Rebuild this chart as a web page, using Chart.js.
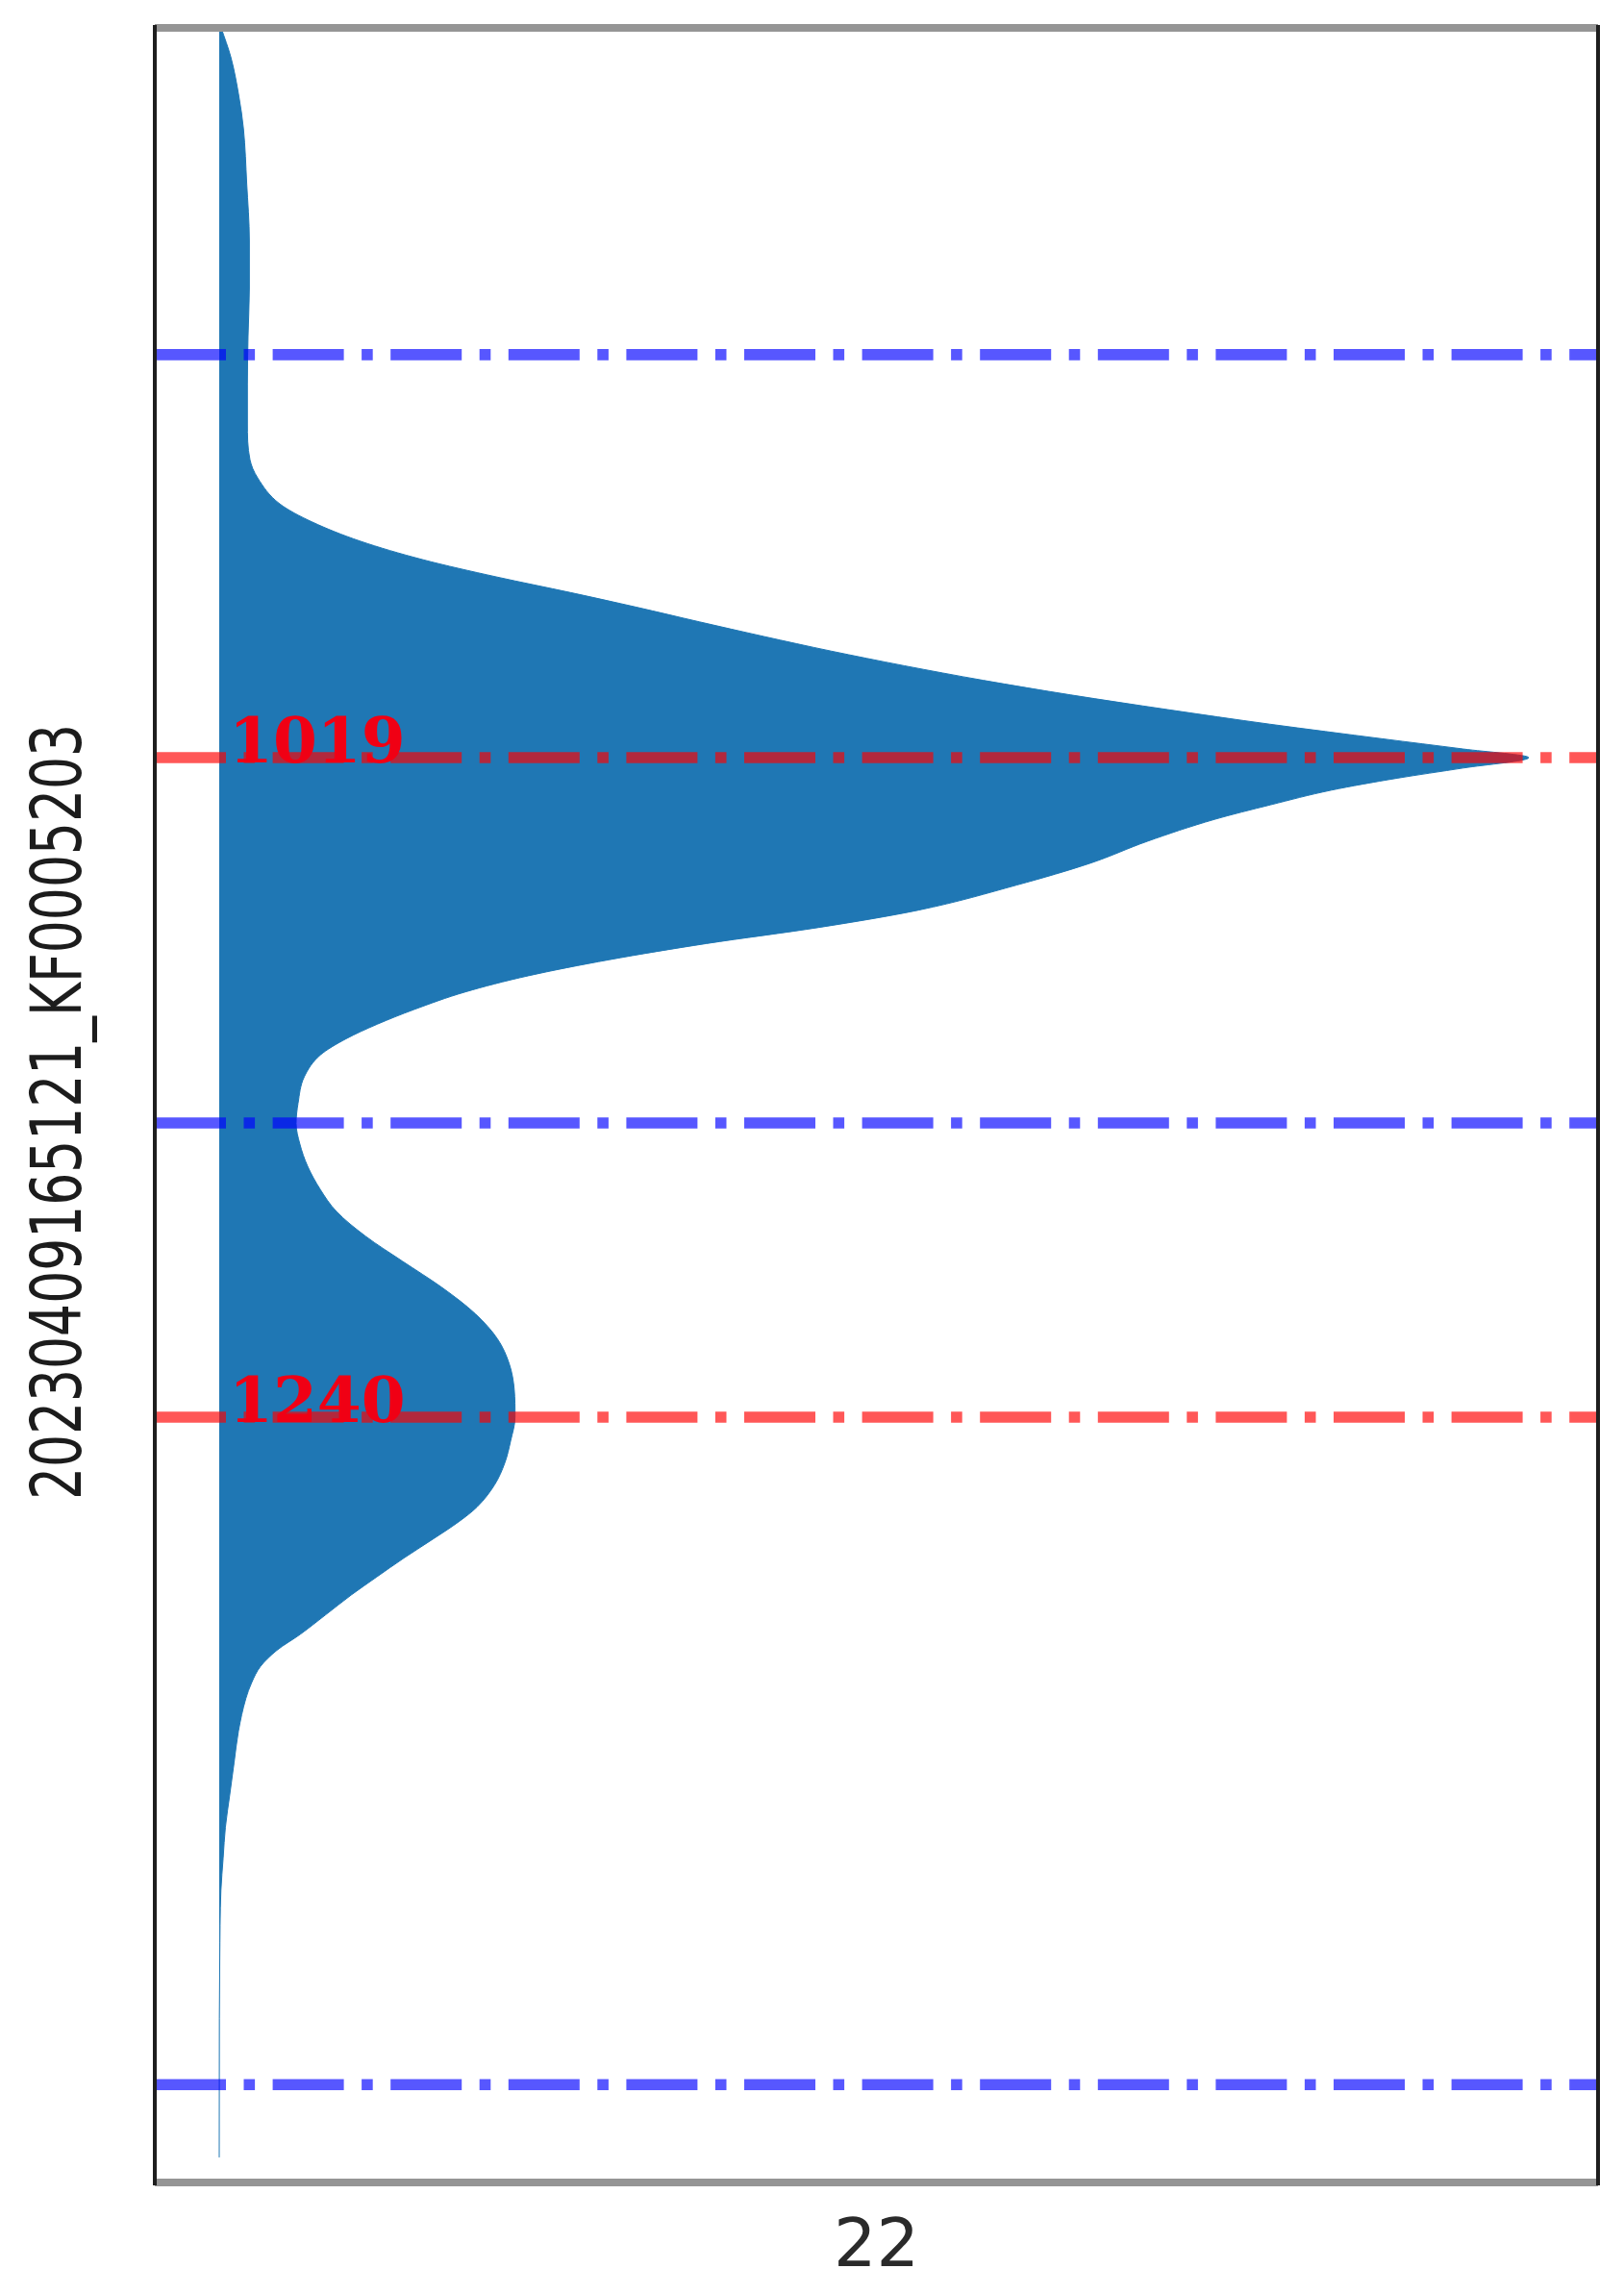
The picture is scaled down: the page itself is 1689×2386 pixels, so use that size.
<!DOCTYPE html>
<html>
<head>
<meta charset="utf-8">
<script src="https://cdn.jsdelivr.net/npm/chart.js@4/dist/chart.umd.min.js"></script>
<style>
  html, body { margin: 0; padding: 0; background: #ffffff; }
  #wrap { width: 1689px; height: 2386px; }
</style>
</head>
<body>
<div id="wrap"><canvas id="c" width="1689" height="2386"></canvas></div>
<script>
// ---- data ----
const sampleName = '20230409165121_KF0005203';
const xTickLabels = ['22'];
// violin half-profile: position (y) and density width (x, peak = 100)
const violinPos = [
  774.5, 784.5, 797.4, 808.3, 826.7, 845.7, 861.8, 877.9, 894.0, 906.9,
  919.2, 925.3, 934.0, 940.1, 946.5, 952.7, 958.5, 963.7, 968.6, 973.5,
  978.4, 983.3, 988.2, 993.1, 998.0, 1002.9, 1007.8, 1012.7, 1016.1, 1019.0,
  1022.5, 1025.9, 1029.9, 1034.8, 1039.7, 1047.0, 1054.4, 1061.7, 1070.1, 1075.9,
  1081.3, 1086.7, 1092.1, 1097.5, 1103.4, 1108.3, 1113.2, 1118.6, 1125.9, 1134.8,
  1141.6, 1148.5, 1155.9, 1163.7, 1171.1, 1179.4, 1187.7, 1196.5, 1205.4, 1213.7,
  1222.0, 1230.8, 1240.0, 1248.0, 1255.4, 1262.7, 1270.1, 1275.0, 1280.9, 1287.2,
  1293.6, 1299.5, 1306.3, 1312.7, 1318.1, 1323.5, 1328.9, 1334.3, 1345.1, 1355.9,
  1366.6, 1377.4, 1387.7, 1398.5, 1422.0, 1441.6, 1488.0
];
const violinWidth = [
  0.15, 0.9, 1.5, 1.85, 2.1, 2.3, 2.3, 2.2, 2.15, 2.15,
  2.35, 2.94, 4.63, 7.12, 10.79, 15.57, 21.22, 26.83, 31.86, 36.66,
  41.58, 46.72, 52.30, 58.34, 65.04, 72.41, 80.23, 88.84, 94.98, 100.0,
  94.98, 89.95, 84.93, 80.3, 76.0, 70.9, 66.5, 60.9, 53.4, 45.8,
  37.2, 29.8, 23.6, 18.8, 14.88, 12.08, 9.69, 7.73, 6.50, 6.02,
  5.87, 6.16, 6.75, 7.72, 8.96, 11.19, 13.98, 17.0, 19.57, 21.24,
  22.14, 22.53, 22.59, 22.25, 21.80, 21.02, 19.68, 18.3, 16.3, 14.1,
  12.0, 10.1, 8.1, 6.2, 4.4, 3.15, 2.48, 2.03, 1.47, 1.13,
  0.80, 0.47, 0.30, 0.13, 0.04, 0.01, 0.0
];
const boundaryLines = [884.0, 1141.4, 1463.6];   // blue dash-dot
const peakLines = [1019, 1240];                  // red dash-dot
const peakLabels = ['1019', '1240'];

// ---- axes ranges ----
const xMin = -4.92, xMax = 105.29;
const yMin = 774.5, yMax = 1496.4;

const violinData = violinPos.map((p, i) => ({ x: violinWidth[i], y: p }));

const dashDot = [74, 18.5, 11.6, 18.5];
function hLine(val, color) {
  return {
    data: [{ x: xMin, y: val }, { x: xMax, y: val }],
    borderColor: color,
    borderWidth: 11.6,
    borderDash: dashDot,
    borderCapStyle: 'butt',
    pointRadius: 0,
    fill: false,
    order: 0
  };
}

const datasets = [
  {
    data: violinData,
    borderColor: 'rgb(31,119,180)',
    backgroundColor: 'rgb(31,119,180)',
    borderWidth: 1,
    pointRadius: 0,
    fill: 'origin',
    cubicInterpolationMode: 'monotone',
    order: 10
  },
  ...boundaryLines.map(v => hLine(v, 'rgba(0,0,255,0.66)')),
  ...peakLines.map(v => hLine(v, 'rgba(255,0,0,0.66)'))
];

const framePlugin = {
  id: 'frame',
  afterDraw(chart) {
    const { ctx, chartArea: a } = chart;
    ctx.save();
    ctx.lineCap = 'butt';
    ctx.strokeStyle = '#959595';
    ctx.lineWidth = 8;
    ctx.beginPath();
    ctx.moveTo(a.left, a.top); ctx.lineTo(a.right, a.top);
    ctx.moveTo(a.left, a.bottom); ctx.lineTo(a.right, a.bottom);
    ctx.stroke();
    ctx.strokeStyle = '#1e1e1e';
    ctx.lineWidth = 4;
    ctx.beginPath();
    ctx.moveTo(a.left, a.top - 3); ctx.lineTo(a.left, a.bottom + 3);
    ctx.moveTo(a.right, a.top - 3); ctx.lineTo(a.right, a.bottom + 3);
    ctx.stroke();
    ctx.restore();
  }
};

// y-axis title: condensed rendering of the sample name, centred on the y axis
const yTitlePlugin = {
  id: 'yTitle',
  afterDraw(chart) {
    const { ctx, scales: { y } } = chart;
    const targetLen = 807;
    ctx.save();
    ctx.font = '73px "DejaVu Sans"';
    const w = ctx.measureText(sampleName).width;
    ctx.translate(65, (y.top + y.bottom) / 2 + 7);
    ctx.rotate(-Math.PI / 2);
    ctx.scale(targetLen / w, 1);
    ctx.fillStyle = '#1c1c1c';
    ctx.textAlign = 'center';
    ctx.textBaseline = 'middle';
    ctx.fillText(sampleName, 0, 0);
    ctx.restore();
  }
};

const labelPlugin = {
  id: 'peakLabels',
  afterDatasetsDraw(chart) {
    const { ctx, scales: { x, y } } = chart;
    ctx.save();
    ctx.fillStyle = 'rgb(240,0,20)';
    ctx.font = '600 66px "DejaVu Serif"';
    ctx.textAlign = 'left';
    ctx.textBaseline = 'alphabetic';
    peakLines.forEach((p, i) => {
      ctx.fillText(peakLabels[i], x.getPixelForValue(0) + 10, y.getPixelForValue(p) + 5);
    });
    ctx.restore();
  }
};

new Chart(document.getElementById('c'), {
  type: 'line',
  data: { datasets },
  options: {
    indexAxis: 'y',
    responsive: false,
    animation: false,
    devicePixelRatio: 1,
    layout: { padding: { top: 29, right: 27, left: 0, bottom: 0 } },
    plugins: { legend: { display: false }, tooltip: { enabled: false } },
    scales: {
      x: {
        type: 'linear',
        min: xMin, max: xMax,
        grid: { display: false, drawTicks: false },
        border: { display: false },
        afterBuildTicks: (s) => { s.ticks = [{ value: (xMin + xMax) / 2 }]; },
        afterFit: (s) => { s.height = 116; },
        ticks: {
          callback: (v, i) => xTickLabels[i],
          font: { family: '"DejaVu Sans"', size: 70 },
          color: '#2a2a2a',
          padding: 27,
          maxRotation: 0
        }
      },
      y: {
        type: 'linear',
        reverse: true,
        min: yMin, max: yMax,
        grid: { display: false, drawTicks: false },
        border: { display: false },
        ticks: { display: false },
        afterFit: (s) => { s.width = 161; },
        title: { display: false, text: sampleName }
      }
    }
  },
  plugins: [framePlugin, yTitlePlugin, labelPlugin]
});
</script>
</body>
</html>
